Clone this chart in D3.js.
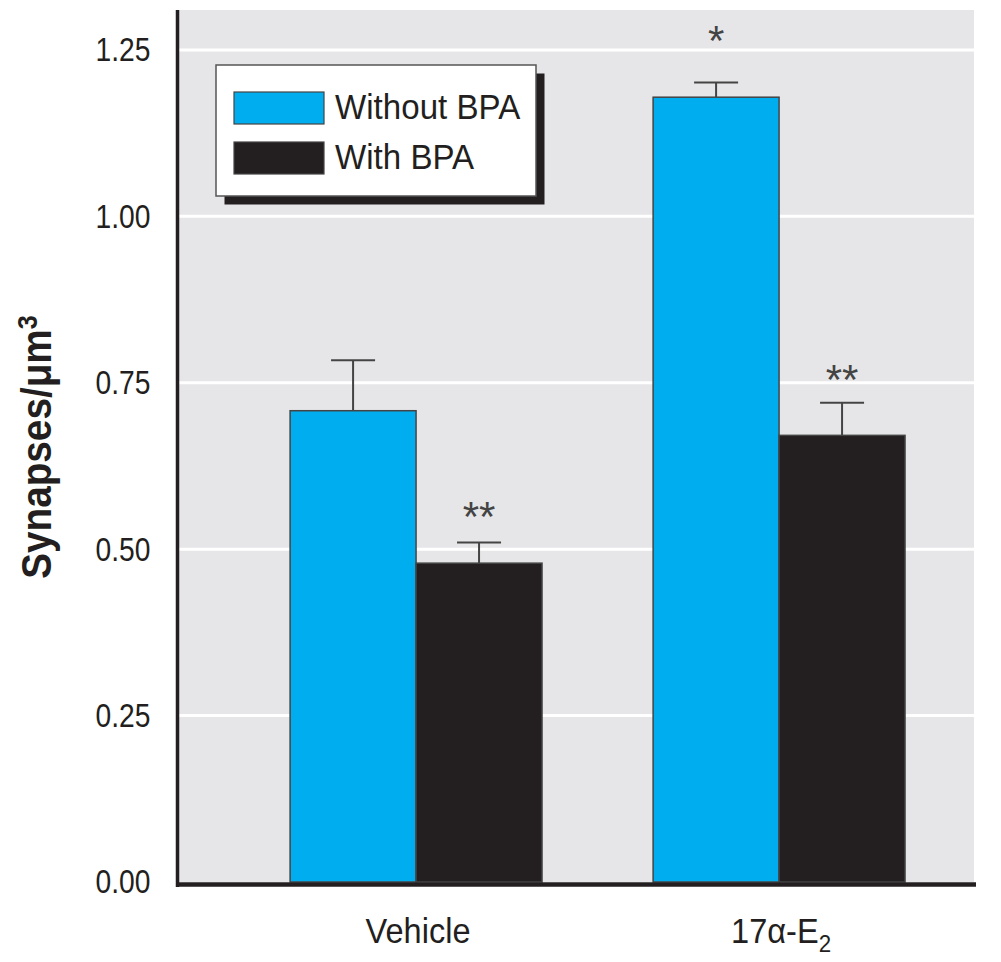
<!DOCTYPE html>
<meta charset="utf-8">
<style>
body {
  margin: 0;
  background-color: #fff;
}
svg text {
  font-family: "Liberation Sans", Arial, sans-serif;
  fill: #231f20;
}
.tick text {
  font-size: 34px;
}
</style>
<body>
  <svg width="1001" height="962"></svg>
</body>
<script src="https://d3js.org/d3.v7.min.js"></script>
<script>

// values
var groups = ["Vehicle", "17α-E2"],
    series = ["Without BPA", "With BPA"],
    withoutBPA = [0.708, 1.179],
    withBPA = [0.479, 0.671],
    withoutBPAErr = [0.076, 0.022],
    withBPAErr = [0.031, 0.049],
    yTicks = [0, 0.25, 0.5, 0.75, 1.0, 1.25];

// significance marks: [group, series, label, height in data units]
var sigMarks = [
  ["17α-E2", "Without BPA", "*", 1.275],
  ["Vehicle", "With BPA", "**", 0.560],
  ["17α-E2", "With BPA", "**", 0.766]
];

var colors = ["#00aeef", "#231f20"];

var svg = d3.select("svg"),
    plot = {left: 179, right: 974, top: 10, bottom: 882};

var y = d3.scaleLinear()
    .domain([0, 1.31])
    .range([plot.bottom, plot.top]);

var x = d3.scaleBand()
    .domain(groups)
    .range([plot.left, plot.right])
    .paddingInner(0.306)
    .paddingOuter(0.248)
    .align(0.617);

var x1 = d3.scaleBand()
    .domain(series)
    .range([0, x.bandwidth()]);

var color = d3.scaleOrdinal().domain(series).range(colors);

var rows = [];
groups.forEach(function(g, i) {
  rows.push({group: g, series: series[0], value: withoutBPA[i], err: withoutBPAErr[i]});
  rows.push({group: g, series: series[1], value: withBPA[i], err: withBPAErr[i]});
});

// background panel
svg.append("rect")
    .attr("x", plot.left)
    .attr("y", plot.top)
    .attr("width", plot.right - plot.left)
    .attr("height", plot.bottom - plot.top)
    .attr("fill", "#e6e6e8");

// gridlines
svg.append("g")
  .selectAll("line")
  .data(yTicks.filter(function(d) { return d > 0; }))
  .enter().append("line")
    .attr("x1", plot.left)
    .attr("x2", plot.right)
    .attr("y1", function(d) { return y(d); })
    .attr("y2", function(d) { return y(d); })
    .attr("stroke", "#fff")
    .attr("stroke-width", 3);

// error bars (upper only)
var eb = svg.append("g")
  .selectAll("g")
  .data(rows)
  .enter().append("g")
    .attr("transform", function(d) {
      return "translate(" + (x(d.group) + x1(d.series) + x1.bandwidth() / 2) + ",0)";
    });

eb.append("line")
    .attr("y1", function(d) { return y(d.value); })
    .attr("y2", function(d) { return y(d.value + d.err); })
    .attr("stroke", "#444")
    .attr("stroke-width", 2);

eb.append("line")
    .attr("x1", -22)
    .attr("x2", 22)
    .attr("y1", function(d) { return y(d.value + d.err); })
    .attr("y2", function(d) { return y(d.value + d.err); })
    .attr("stroke", "#444")
    .attr("stroke-width", 2);

// bars
svg.append("g")
  .selectAll("rect")
  .data(rows)
  .enter().append("rect")
    .attr("x", function(d) { return x(d.group) + x1(d.series); })
    .attr("y", function(d) { return y(d.value); })
    .attr("width", x1.bandwidth())
    .attr("height", function(d) { return y(0) - y(d.value); })
    .attr("fill", function(d) { return color(d.series); })
    .attr("stroke", "#444")
    .attr("stroke-width", 1.5);

// asterisks
svg.append("g")
  .selectAll("text")
  .data(sigMarks)
  .enter().append("text")
    .attr("x", function(d) { return x(d[0]) + x1(d[1]) + x1.bandwidth() / 2; })
    .attr("y", function(d) { return y(d[3]) + 22; })
    .attr("text-anchor", "middle")
    .style("font-size", "42px")
    .style("fill", "#444")
    .text(function(d) { return d[2]; });

// axes lines
svg.append("line")
    .attr("x1", 177.5).attr("x2", 177.5)
    .attr("y1", y.range()[1]).attr("y2", plot.bottom + 5)
    .attr("stroke", "#231f20")
    .attr("stroke-width", 3.5);

svg.append("line")
    .attr("x1", 176).attr("x2", plot.right + 2)
    .attr("y1", plot.bottom + 2.5).attr("y2", plot.bottom + 2.5)
    .attr("stroke", "#231f20")
    .attr("stroke-width", 4.5);

// y axis labels (condensed look: squeeze horizontally)
var yAxis = svg.append("g")
    .attr("transform", "translate(177.5,0)")
    .call(d3.axisLeft(y).tickValues(yTicks).tickFormat(d3.format(".2f")).tickSize(0).tickPadding(27));
yAxis.select(".domain").remove();
yAxis.selectAll(".tick text")
    .attr("x", 0)
    .attr("transform", "translate(-27,0) scale(0.83,1)");

// x axis labels
var xl = svg.append("g")
  .selectAll("text")
  .data(groups)
  .enter().append("text")
    .attr("transform", function(d) {
      return "translate(" + (x(d) + x.bandwidth() / 2 + 2) + ",943) scale(0.93,1)";
    })
    .attr("text-anchor", "middle")
    .style("font-size", "35px");

xl.each(function(d) {
  var t = d3.select(this);
  if (d === "17α-E2") {
    t.append("tspan").text("17α-E");
    t.append("tspan").attr("dy", 9).style("font-size", "24px").text("2");
  } else {
    t.text(d);
  }
});

// y title
var yt = svg.append("text")
    .attr("transform", "translate(51,447) rotate(-90) scale(0.9,1)")
    .attr("text-anchor", "middle")
    .style("font-size", "43px")
    .style("font-weight", "bold");
yt.append("tspan").text("Synapses/μm");
yt.append("tspan").attr("dy", -14).style("font-size", "28px").text("3");

// legend
var legend = svg.append("g").attr("transform", "translate(216,65)");

legend.append("rect")
    .attr("x", 8.5).attr("y", 8.5)
    .attr("width", 320).attr("height", 131)
    .attr("fill", "#231f20");

legend.append("rect")
    .attr("width", 320).attr("height", 131)
    .attr("fill", "#fff")
    .attr("stroke", "#555")
    .attr("stroke-width", 1.5);

var li = legend.selectAll(".item")
  .data(series)
  .enter().append("g")
    .attr("class", "item")
    .attr("transform", function(d, i) { return "translate(18," + (27 + i * 50) + ")"; });

li.append("rect")
    .attr("width", 90)
    .attr("height", 32)
    .attr("fill", function(d) { return color(d); })
    .attr("stroke", "#444")
    .attr("stroke-width", 1.2);

li.append("text")
    .attr("transform", "translate(101,27) scale(0.92,1)")
    .style("font-size", "36px")
    .text(function(d) { return d; });

</script>
